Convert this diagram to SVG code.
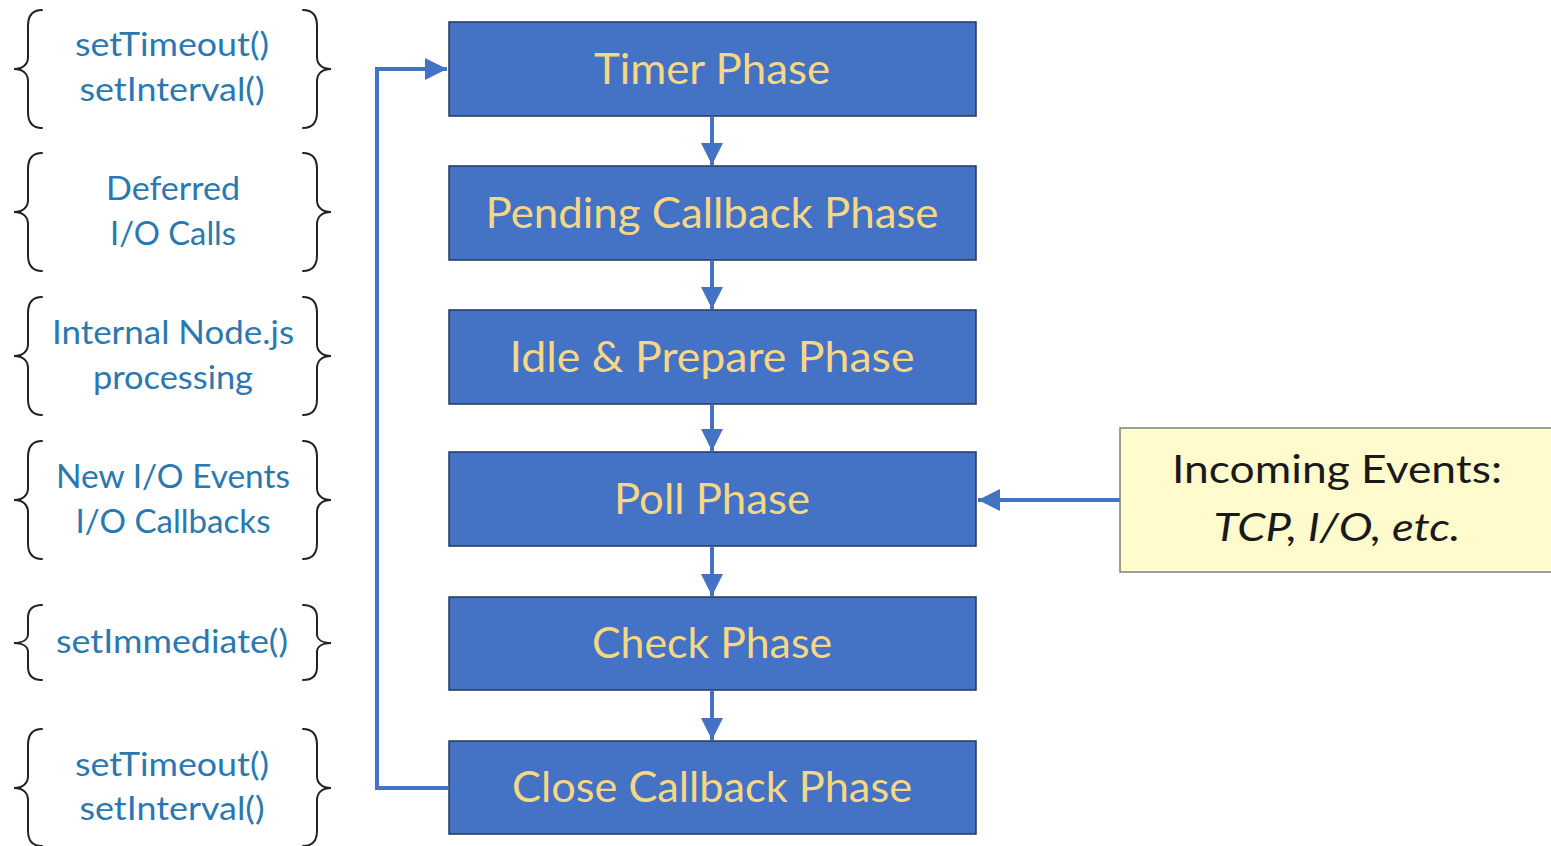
<svg xmlns="http://www.w3.org/2000/svg" width="1551" height="846" viewBox="0 0 1551 846">
  <style>
    .phase rect { fill: #4472C4; stroke: #1F3864; stroke-width: 1.5; }
    .phase text { fill: #F6D785; font-family: Lato, "Open Sans", sans-serif; font-size: 42px; text-anchor: middle; }
    .note text { fill: #2B78B0; font-family: Lato, "Open Sans", sans-serif; font-size: 32px; text-anchor: middle; }
    .brace { fill: none; stroke: #222; stroke-width: 2; stroke-linecap: round; }
    .link { fill: none; stroke: #4472C4; stroke-width: 4; }
    .events rect { fill: #FFFBCC; stroke: #7F7F7F; stroke-width: 1.5; }
    .events text { fill: #1A1A1A; font-family: Lato, "Open Sans", sans-serif; font-size: 39px; text-anchor: middle; }
  </style>
  <defs>
    <marker id="head" viewBox="0 0 10 10" refX="10" refY="5" markerWidth="5.5" markerHeight="5.5" orient="auto" markerUnits="strokeWidth">
      <path d="M0,0 L10,5 L0,10 Z" fill="#4472C4"/>
    </marker>
  </defs>
  <rect width="1551" height="846" fill="#FFFFFF"/>

  <!-- event loop phases -->
  <g id="timer" class="phase">
    <rect x="449" y="22" width="527" height="94"/>
    <text x="712" y="84" textLength="236" lengthAdjust="spacingAndGlyphs">Timer Phase</text>
  </g>
  <g id="pending" class="phase">
    <rect x="449" y="166" width="527" height="94"/>
    <text x="712" y="228" textLength="453" lengthAdjust="spacingAndGlyphs">Pending Callback Phase</text>
  </g>
  <g id="idle" class="phase">
    <rect x="449" y="310" width="527" height="94"/>
    <text x="712" y="372" textLength="405" lengthAdjust="spacingAndGlyphs">Idle &amp; Prepare Phase</text>
  </g>
  <g id="poll" class="phase">
    <rect x="449" y="452" width="527" height="94"/>
    <text x="712" y="514" textLength="196" lengthAdjust="spacingAndGlyphs">Poll Phase</text>
  </g>
  <g id="check" class="phase">
    <rect x="449" y="597" width="527" height="93"/>
    <text x="712" y="658" textLength="240" lengthAdjust="spacingAndGlyphs">Check Phase</text>
  </g>
  <g id="close" class="phase">
    <rect x="449" y="741" width="527" height="93"/>
    <text x="712" y="802" textLength="400" lengthAdjust="spacingAndGlyphs">Close Callback Phase</text>
  </g>

  <!-- incoming events source -->
  <g id="events" class="events">
    <rect x="1120" y="428" width="435" height="144"/>
    <text x="1337" y="483" textLength="330" lengthAdjust="spacingAndGlyphs">Incoming Events:</text>
    <text x="1337" y="541" font-style="italic" textLength="247" lengthAdjust="spacingAndGlyphs">TCP, I/O, etc.</text>
  </g>

  <!-- connectors -->
  <g id="connectors">
    <line class="link" x1="712" y1="117" x2="712" y2="165" marker-end="url(#head)"/>
    <line class="link" x1="712" y1="261" x2="712" y2="309" marker-end="url(#head)"/>
    <line class="link" x1="712" y1="405" x2="712" y2="451" marker-end="url(#head)"/>
    <line class="link" x1="712" y1="547" x2="712" y2="596" marker-end="url(#head)"/>
    <line class="link" x1="712" y1="691" x2="712" y2="740" marker-end="url(#head)"/>
    <polyline class="link" points="449,788 377,788 377,69 447,69" marker-end="url(#head)"/>
    <line class="link" x1="1120" y1="500" x2="978" y2="500" marker-end="url(#head)"/>
  </g>

  <!-- per-phase notes in braces -->
  <g id="note-timer" class="note">
    <path class="brace" d="M42,10 C32,10 28,16 28,26 L28,57 C28,65 22,69 14,69 C22,69 28,73 28,81 L28,112 C28,122 32,128 42,128"/>
    <path class="brace" d="M303,10 C313,10 317,16 317,26 L317,57 C317,65 323,69 331,69 C323,69 317,73 317,81 L317,112 C317,122 313,128 303,128"/>
    <text x="172" y="56" textLength="194" lengthAdjust="spacingAndGlyphs">setTimeout()</text>
    <text x="172" y="101" textLength="185" lengthAdjust="spacingAndGlyphs">setInterval()</text>
  </g>
  <g id="note-pending" class="note">
    <path class="brace" d="M42,153 C32,153 28,159 28,169 L28,200 C28,208 22,212 14,212 C22,212 28,216 28,224 L28,255 C28,265 32,271 42,271"/>
    <path class="brace" d="M303,153 C313,153 317,159 317,169 L317,200 C317,208 323,212 331,212 C323,212 317,216 317,224 L317,255 C317,265 313,271 303,271"/>
    <text x="173" y="200" textLength="134" lengthAdjust="spacingAndGlyphs">Deferred</text>
    <text x="173" y="245" textLength="126" lengthAdjust="spacingAndGlyphs">I/O Calls</text>
  </g>
  <g id="note-idle" class="note">
    <path class="brace" d="M42,297 C32,297 28,303 28,313 L28,344 C28,352 22,356 14,356 C22,356 28,360 28,368 L28,399 C28,409 32,415 42,415"/>
    <path class="brace" d="M303,297 C313,297 317,303 317,313 L317,344 C317,352 323,356 331,356 C323,356 317,360 317,368 L317,399 C317,409 313,415 303,415"/>
    <text x="173" y="344" textLength="242" lengthAdjust="spacingAndGlyphs">Internal Node.js</text>
    <text x="173" y="389" textLength="160" lengthAdjust="spacingAndGlyphs">processing</text>
  </g>
  <g id="note-poll" class="note">
    <path class="brace" d="M42,441 C32,441 28,447 28,457 L28,488 C28,496 22,500 14,500 C22,500 28,504 28,512 L28,543 C28,553 32,559 42,559"/>
    <path class="brace" d="M303,441 C313,441 317,447 317,457 L317,488 C317,496 323,500 331,500 C323,500 317,504 317,512 L317,543 C317,553 313,559 303,559"/>
    <text x="173" y="488" textLength="234" lengthAdjust="spacingAndGlyphs">New I/O Events</text>
    <text x="173" y="533" textLength="195" lengthAdjust="spacingAndGlyphs">I/O Callbacks</text>
  </g>
  <g id="note-check" class="note">
    <path class="brace" d="M42,605 C32,605 28,610 28,618 L28,634 C28,640 22,643 14,643 C22,643 28,646 28,652 L28,667 C28,675 32,680 42,680"/>
    <path class="brace" d="M303,605 C313,605 317,610 317,618 L317,634 C317,640 323,643 331,643 C323,643 317,646 317,652 L317,667 C317,675 313,680 303,680"/>
    <text x="172" y="653" textLength="232" lengthAdjust="spacingAndGlyphs">setImmediate()</text>
  </g>
  <g id="note-close" class="note">
    <path class="brace" d="M42,729 C32,729 28,735 28,745 L28,776 C28,784 22,788 14,788 C22,788 28,792 28,800 L28,831 C28,841 32,846 42,846"/>
    <path class="brace" d="M303,729 C313,729 317,735 317,745 L317,776 C317,784 323,788 331,788 C323,788 317,792 317,800 L317,831 C317,841 313,846 303,846"/>
    <text x="172" y="776" textLength="194" lengthAdjust="spacingAndGlyphs">setTimeout()</text>
    <text x="172" y="820" textLength="185" lengthAdjust="spacingAndGlyphs">setInterval()</text>
  </g>
</svg>
